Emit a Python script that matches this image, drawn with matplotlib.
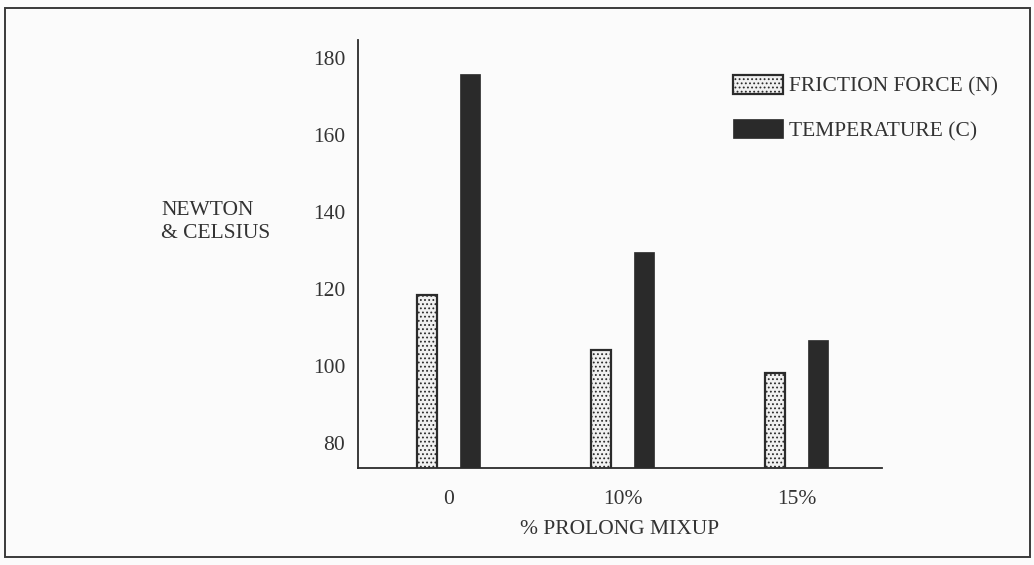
"""
Friction force and temperature vs. prolonged mixing, grouped bars.
"""
import numpy as np
import matplotlib
matplotlib.use('Agg')
import matplotlib.pyplot as plt
from matplotlib.patches import Rectangle

plt.rcParams['font.family'] = ['Liberation Serif', 'DejaVu Serif']
plt.rcParams['hatch.color'] = '#8a8a8a'
plt.rcParams['hatch.linewidth'] = 0.8

# data
MIXUP = ['0', '10%', '15%']
FRICTION = [118.5, 104.2, 98.2]
TEMPERATURE = [176.0, 129.5, 106.8]
YTICKS = [80, 100, 120, 140, 160, 180]

INK = '#2b2b2b'
TXT = '#333333'
FS = 15.5

fig = plt.figure(figsize=(10.34, 5.65), dpi=100)
fig.patch.set_facecolor('#fbfbfb')
ax = fig.add_axes([0.346, 0.172, 0.507, 0.757])
ax.set_facecolor('none')

x = np.arange(len(MIXUP))
width = 0.115
offset = 0.122

ax.bar(x - offset, FRICTION, width, bottom=0, color='#f1f1f1',
       edgecolor=INK, linewidth=1.6, hatch='....',
       label='FRICTION FORCE (N)')
ax.bar(x + offset, TEMPERATURE, width, bottom=0, color='#2a2a2a',
       edgecolor='#2a2a2a', linewidth=0.5, label='TEMPERATURE (C)')

ax.set_ylim(73.5, 184.7)
ax.set_xlim(-0.52, 2.49)
ax.set_yticks(YTICKS)
ax.set_xticks(x)
ax.set_xticklabels(MIXUP)

# aesthetics
for side in ['top', 'right']:
    ax.spines[side].set_visible(False)
for side in ['left', 'bottom']:
    ax.spines[side].set_color(INK)
    ax.spines[side].set_linewidth(1.3)
ax.tick_params(axis='y', length=0, pad=9, labelsize=FS, labelcolor=TXT)
ax.tick_params(axis='x', length=0, pad=16, labelsize=FS, labelcolor=TXT)

ax.set_xlabel('% PROLONG MIXUP', fontsize=FS, color=TXT, labelpad=8)
fig.text(0.156, 0.607, 'NEWTON\n& CELSIUS', fontsize=FS, color=TXT,
         ha='left', va='center', linespacing=1.25)

leg = ax.legend(loc='upper left', bbox_to_anchor=(0.709, 0.867),
                bbox_transform=fig.transFigure, frameon=False,
                fontsize=FS, handlelength=2.3, handleheight=0.95,
                labelspacing=1.05, handletextpad=0.28, borderpad=0,
                borderaxespad=0)
for txt in leg.get_texts():
    txt.set_color(TXT)

# outer frame
fig.patches.append(Rectangle((0.005, 0.014), 0.991, 0.972,
                             transform=fig.transFigure, fill=False,
                             edgecolor='#3a3a3a', linewidth=1.4))

fig.savefig('out.png', dpi=100, facecolor=fig.get_facecolor())
plt.close(fig)
